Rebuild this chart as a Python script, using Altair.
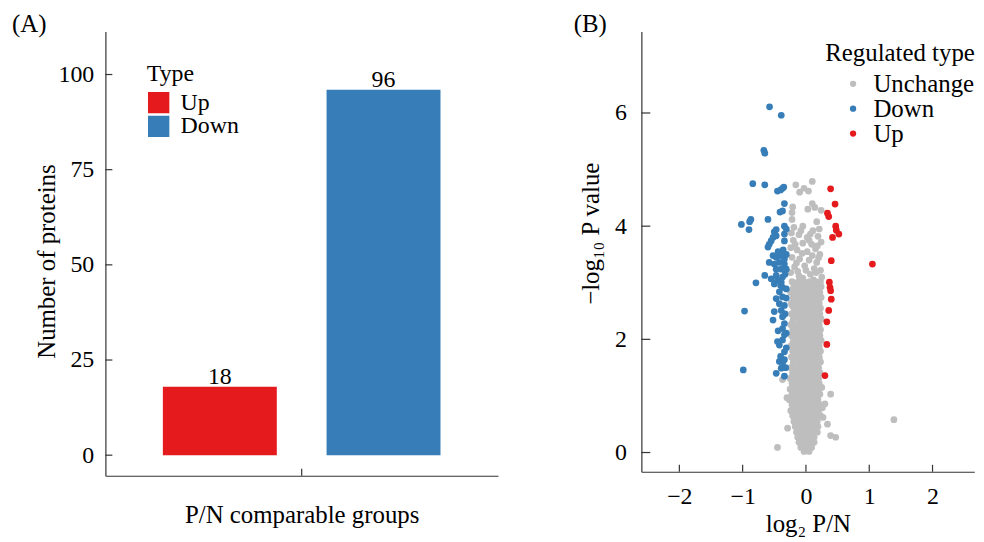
import altair as alt
import pandas as pd

FONT = "Liberation Serif"
AXIS_COLOR = "#333333"

# ---------------- Panel A data ----------------
type_labels = ["Up", "Down"]
type_counts = [18, 96]
type_colors = ["#e41a1c", "#377eb8"]
group_name = "P/N comparable groups"
a_y_ticks = [0, 25, 50, 75, 100]

# ---------------- Panel B data ----------------
reg_types = ["Unchange", "Down", "Up"]
reg_colors = ["#bebebe", "#377eb8", "#e41a1c"]
b_x_ticks = [-2, -1, 0, 1, 2]
b_y_ticks = [0, 2, 4, 6]

up_x = [0.39, 0.46, 0.34, 0.36, 0.47, 0.52, 0.42, 0.48, 0.40, 1.05,
        0.37, 0.38, 0.39, 0.40, 0.36, 0.33, 0.33, 0.30]
up_y = [4.66, 4.39, 4.23, 4.17, 4.00, 3.86, 3.80, 3.93, 3.39, 3.33,
        3.01, 2.92, 2.86, 2.71, 2.51, 2.31, 1.91, 1.36]

down_x = [-0.575, -0.39, -0.665, -0.65, -0.84, -0.65, -0.40, -0.37, -0.35, -0.34,
          -0.41, -0.37, -0.87, -0.60, -1.02, -0.89, -0.90, -0.34, -0.50, -0.47,
          -0.34, -0.52, -0.55, -0.58, -0.60, -0.47, -0.34, -0.52, -0.47, -0.42,
          -0.37, -0.34, -0.58, -0.50, -0.42, -0.34, -0.47, -0.39, -0.31, -0.65,
          -0.79, -0.55, -0.47, -0.37, -0.45, -0.39, -0.50, -0.37, -0.31, -0.42,
          -0.47, -0.37, -0.31, -0.42, -0.34, -0.97, -0.50, -0.39, -0.52, -0.37,
          -0.34, -0.37, -0.31, -0.34, -0.45, -0.37, -0.42, -0.34, -0.99, -0.42,
          -0.37, -0.34, -0.47, -0.34, -0.39, -0.44, -0.36, -0.31, -0.40, -0.33,
          -0.44, -0.31, -0.40, -0.32, -0.45, -0.31, -0.33]
down_y = [6.11, 5.96, 5.34, 5.29, 4.75, 4.73, 4.64, 4.67, 4.69, 4.40,
          4.25, 4.27, 4.12, 4.12, 4.03, 4.08, 3.94, 4.00, 3.90, 3.94,
          3.86, 3.80, 3.74, 3.68, 3.63, 3.83, 3.74, 3.48, 3.45, 3.48,
          3.48, 3.42, 3.36, 3.33, 3.36, 3.33, 3.24, 3.24, 3.24, 3.13,
          3.00, 3.07, 3.13, 3.10, 3.04, 3.01, 2.98, 2.92, 2.89, 2.84,
          2.72, 2.75, 2.73, 2.63, 2.60, 2.50, 2.49, 2.51, 2.34, 2.40,
          2.28, 2.19, 2.11, 2.08, 1.96, 1.99, 1.90, 1.78, 1.46, 1.61,
          1.58, 1.64, 1.40, 1.35, 1.49, 3.55, 3.58, 3.50, 2.95, 2.45,
          2.15, 1.85, 1.70, 1.50, 4.62, 3.95, 3.15]

# non-significant proteins: rows of the dense column (y, list of x)
unch_rows = [
    (3.02, [-0.22, -0.12, -0.03, 0.06, 0.15, 0.23]),
    (2.98, [-0.17, -0.07, 0.03, 0.12, 0.20]),
    (2.93, [-0.19, -0.09, 0.01, 0.10, 0.19, 0.24]),
    (2.88, [-0.21, -0.11, -0.01, 0.08, 0.17]),
    (2.83, [-0.24, -0.14, -0.04, 0.05, 0.14, 0.22]),
    (2.79, [-0.18, -0.07, 0.03, 0.13, 0.21]),
    (2.74, [-0.20, -0.10, -0.01, 0.09, 0.18, 0.24]),
    (2.69, [-0.19, -0.08, 0.02, 0.11, 0.19]),
    (2.64, [-0.23, -0.13, -0.05, 0.04, 0.13, 0.21]),
    (2.60, [-0.22, -0.12, -0.02, 0.06, 0.14]),
    (2.55, [-0.19, -0.09, 0.00, 0.08, 0.17, 0.23]),
    (2.50, [-0.18, -0.08, 0.02, 0.11, 0.20]),
    (2.45, [-0.23, -0.14, -0.04, 0.05, 0.14, 0.22]),
    (2.41, [-0.17, -0.06, 0.04, 0.13, 0.21]),
    (2.36, [-0.20, -0.10, 0.01, 0.10, 0.19, 0.24]),
    (2.31, [-0.21, -0.10, 0.00, 0.09, 0.18]),
    (2.26, [-0.24, -0.14, -0.05, 0.04, 0.13, 0.21]),
    (2.22, [-0.18, -0.08, 0.02, 0.11, 0.20]),
    (2.17, [-0.21, -0.11, -0.01, 0.08, 0.17, 0.23]),
    (2.12, [-0.19, -0.08, 0.02, 0.12, 0.20]),
    (2.07, [-0.23, -0.13, -0.04, 0.06, 0.15, 0.22]),
    (2.03, [-0.20, -0.10, 0.00, 0.09, 0.18]),
    (1.98, [-0.19, -0.09, 0.00, 0.10, 0.19, 0.24]),
    (1.93, [-0.21, -0.11, -0.01, 0.08, 0.17]),
    (1.88, [-0.24, -0.14, -0.05, 0.04, 0.13, 0.21]),
    (1.84, [-0.18, -0.08, 0.02, 0.11, 0.19]),
    (1.79, [-0.21, -0.11, -0.02, 0.08, 0.17, 0.23]),
    (1.74, [-0.19, -0.09, 0.01, 0.10, 0.18]),
    (1.69, [-0.23, -0.13, -0.04, 0.05, 0.14, 0.21]),
    (1.65, [-0.16, -0.06, 0.04, 0.13, 0.21]),
    (1.60, [-0.20, -0.10, 0.00, 0.09, 0.18, 0.23]),
    (1.55, [-0.20, -0.10, 0.00, 0.09, 0.17]),
    (1.50, [-0.24, -0.14, -0.05, 0.04, 0.13, 0.20]),
    (1.46, [-0.18, -0.08, 0.02, 0.11, 0.19]),
    (1.41, [-0.21, -0.11, -0.02, 0.07, 0.16, 0.22]),
    (1.36, [-0.21, -0.11, -0.01, 0.08, 0.16]),
    (1.31, [-0.25, -0.15, -0.06, 0.03, 0.12, 0.20]),
    (1.27, [-0.19, -0.09, 0.01, 0.10, 0.18]),
    (1.22, [-0.22, -0.12, -0.03, 0.06, 0.15, 0.21]),
    (1.17, [-0.20, -0.10, 0.00, 0.09, 0.17]),
    (1.12, [-0.25, -0.15, -0.06, 0.04, 0.13, 0.19]),
    (1.08, [-0.18, -0.08, 0.02, 0.11, 0.19]),
    (1.03, [-0.22, -0.12, -0.02, 0.07, 0.16, 0.22]),
    (0.98, [-0.21, -0.11, -0.01, 0.08, 0.16]),
    (0.93, [-0.26, -0.16, -0.06, 0.03, 0.12, 0.19]),
    (0.89, [-0.18, -0.08, 0.02, 0.11, 0.19]),
    (0.84, [-0.22, -0.12, -0.03, 0.06, 0.15, 0.22]),
    (0.79, [-0.20, -0.10, 0.00, 0.09, 0.17]),
    (0.74, [-0.24, -0.14, -0.05, 0.04, 0.13, 0.20]),
    (0.70, [-0.18, -0.08, 0.02, 0.11, 0.19]),
    (0.65, [-0.21, -0.11, -0.02, 0.07, 0.16, 0.23]),
    (0.60, [-0.16, -0.06, 0.04, 0.13]),
    (0.55, [-0.19, -0.09, 0.01, 0.10, 0.18]),
    (0.51, [-0.14, -0.04, 0.06, 0.14]),
    (0.46, [-0.17, -0.07, 0.02, 0.11, 0.19]),
    (0.41, [-0.12, -0.02, 0.07, 0.15]),
    (0.36, [-0.15, -0.06, 0.03, 0.12, 0.18]),
    (0.32, [-0.10, 0.00, 0.09]),
    (0.27, [-0.13, -0.04, 0.05, 0.13]),
    (0.22, [-0.07, 0.03, 0.10]),
    (0.18, [-0.11, -0.02, 0.07, 0.13]),
    (0.13, [-0.04, 0.05]),
    (0.09, [-0.08, 0.01, 0.09]),
    (0.05, [0.00]),
    (0.02, [-0.03, 0.05]),
]
# sparse upper part and outliers of the non-significant proteins
unch_extra_x = [-0.16, -0.03, 0.10, 0.04, -0.10, -0.21, 0.10, 0.14, 0.24, -0.22,
                0.03, -0.22, -0.05, 0.17, 0.21, -0.19, 0.11, -0.23, -0.11, 0.02,
                0.19, 0.24, -0.20, -0.05, 0.09, 0.15, -0.24, -0.14, 0.02, 0.22,
                -0.22, -0.10, 0.05, 0.17, -0.02, 0.13, 0.23, -0.18, -0.24, 0.07,
                0.25, -0.11, -0.15, 0.10, -0.06, 0.20, -0.17, 0.05, 0.18, -0.08,
                0.07, -0.13, 0.00, 0.16, -0.05, 0.12,
                1.39, -0.45, -0.29, 0.39, 0.39, 0.47, 0.34, 0.26,
                -0.37, 0.30, -0.30, 0.27, 0.25]
unch_extra_y = [4.73, 4.67, 4.79, 4.62, 4.60, 4.34, 4.40, 4.33, 4.28, 4.24,
                4.30, 4.12, 4.00, 4.08, 3.95, 3.98, 3.92, 3.88, 3.85, 3.80,
                3.82, 3.72, 3.75, 3.70, 3.68, 3.60, 3.62, 3.58, 3.55, 3.50,
                3.45, 3.42, 3.40, 3.36, 3.30, 3.25, 3.22, 3.28, 3.18, 3.15,
                3.10, 3.12, 3.35, 3.48, 3.52, 3.44, 3.68, 3.75, 3.65, 3.92,
                3.86, 3.20, 3.22, 3.18, 3.08, 3.05,
                0.58, 0.09, 0.43, 1.03, 0.30, 0.27, 0.50, 0.79,
                1.29, 0.86, 0.97, 0.62, 1.15]

# ---------------- tables ----------------
a_df = pd.DataFrame({"group": [group_name] * len(type_labels),
                     "Type": type_labels, "count": type_counts})
a_tick_df = pd.DataFrame({"count": a_y_ticks})
a_xtick_df = pd.DataFrame({"group": [group_name]})

ux, uy = [], []
for yv, xs in unch_rows:
    for xv in xs:
        ux.append(xv)
        uy.append(yv)
ux += unch_extra_x
uy += unch_extra_y
b_df = pd.concat([
    pd.DataFrame({"x": ux, "y": uy, "Regulated": "Unchange"}),
    pd.DataFrame({"x": down_x, "y": down_y, "Regulated": "Down"}),
    pd.DataFrame({"x": up_x, "y": up_y, "Regulated": "Up"}),
], ignore_index=True)
b_xtick_df = pd.DataFrame({"x": b_x_ticks})
b_ytick_df = pd.DataFrame({"y": b_y_ticks})

# ---------------- Panel A ----------------
AW, AH = 395, 447
a_title_y = "Number of proteins"
a_title_x = "P/N comparable groups"

a_xscale = alt.Scale(paddingInner=0, paddingOuter=0.207, align=0.5)
a_yscale = alt.Scale(domain=[-5.4, 111.3], nice=False, zero=False)

a_xaxis = alt.Axis(labels=False, ticks=False, tickSize=0, title=a_title_x,
                   titleBaseline="alphabetic", titlePadding=47)
a_yaxis = alt.Axis(values=a_y_ticks, ticks=False, tickSize=0, labelPadding=11.7,
                   title=a_title_y, titleBaseline="alphabetic", titlePadding=4,
                   titleY=231)

bars = alt.Chart(a_df).mark_bar(opacity=1).encode(
    x=alt.X("group:N", scale=a_xscale, axis=a_xaxis),
    xOffset=alt.XOffset("Type:N", sort=type_labels,
                        scale=alt.Scale(paddingInner=0.304, paddingOuter=0)),
    y=alt.Y("count:Q", scale=a_yscale, axis=a_yaxis),
    y2=alt.datum(0),
    color=alt.Color("Type:N", sort=type_labels,
                    scale=alt.Scale(domain=type_labels, range=type_colors),
                    legend=alt.Legend(title="Type", orient="none", legendX=41.6, legendY=31,
                                      symbolType="square", symbolSize=462,
                                      symbolStrokeWidth=0, symbolOpacity=1,
                                      titleFontSize=24, labelFontSize=24,
                                      titlePadding=5, labelOffset=10,
                                      padding=0, rowPadding=-1.5, clipHeight=23)),
)
bar_text = alt.Chart(a_df).mark_text(font=FONT, fontSize=24, baseline="alphabetic",
                                     dy=-3, color="black").encode(
    x=alt.X("group:N", scale=a_xscale, axis=a_xaxis),
    xOffset=alt.XOffset("Type:N", sort=type_labels),
    y=alt.Y("count:Q", scale=a_yscale, axis=a_yaxis),
    text=alt.Text("count:Q"),
)
a_yticks = alt.Chart(a_tick_df).mark_rule(color=AXIS_COLOR, strokeWidth=1.2).encode(
    y=alt.Y("count:Q", scale=a_yscale, axis=a_yaxis),
    x=alt.value(0), x2=alt.value(7),
)
a_xtick = alt.Chart(a_xtick_df).mark_rule(color=AXIS_COLOR, strokeWidth=1.2).encode(
    x=alt.X("group:N", scale=a_xscale, axis=a_xaxis),
    y=alt.value(AH), y2=alt.value(AH - 7),
)
panel_a = alt.layer(bars, bar_text, a_yticks, a_xtick).properties(
    width=AW, height=AH,
    title=alt.TitleParams("(A)", anchor="start", frame="group", dx=-94, dy=10),
)

# ---------------- Panel B ----------------
BW, BH = 335, 443
b_xscale = alt.Scale(domain=[-2.6, 2.66], nice=False, zero=False)
b_yscale = alt.Scale(domain=[-0.34, 7.44], nice=False, zero=False)
b_title_x = "log\u2082 P/N"
b_title_y = "\u2212log\u2081\u2080 P value"
b_xaxis = alt.Axis(values=b_x_ticks, ticks=False, tickSize=0, labelPadding=13,
                   title=b_title_x, titleBaseline="alphabetic", titlePadding=23)
b_yaxis = alt.Axis(values=b_y_ticks, ticks=False, tickSize=0, labelPadding=15,
                   title=b_title_y, titleBaseline="alphabetic", titlePadding=16,
                   titleY=203)

pts = alt.Chart(b_df).mark_circle(size=46, opacity=1).encode(
    x=alt.X("x:Q", scale=b_xscale, axis=b_xaxis),
    y=alt.Y("y:Q", scale=b_yscale, axis=b_yaxis),
    color=alt.Color("Regulated:N", sort=reg_types,
                    scale=alt.Scale(domain=reg_types, range=reg_colors),
                    legend=alt.Legend(title="Regulated type", orient="none",
                                      legendX=185, legendY=9.7,
                                      symbolType="circle", symbolSize=40,
                                      symbolOffset=15.5, symbolStrokeWidth=0,
                                      symbolOpacity=1,
                                      titleFontSize=25, labelFontSize=25,
                                      titlePadding=6.5, labelOffset=8,
                                      padding=0, rowPadding=-3, clipHeight=23)),
)
b_xticks = alt.Chart(b_xtick_df).mark_rule(color=AXIS_COLOR, strokeWidth=1.2).encode(
    x=alt.X("x:Q", scale=b_xscale, axis=b_xaxis),
    y=alt.value(BH), y2=alt.value(BH - 7),
)
b_yticks = alt.Chart(b_ytick_df).mark_rule(color=AXIS_COLOR, strokeWidth=1.2).encode(
    y=alt.Y("y:Q", scale=b_yscale, axis=b_yaxis),
    x=alt.value(0), x2=alt.value(9),
)
panel_b = alt.layer(pts, b_xticks, b_yticks).properties(
    width=BW, height=BH,
    title=alt.TitleParams("(B)", anchor="start", frame="group", dx=-68, dy=10),
)

chart = alt.hconcat(panel_a, panel_b, spacing=76.3).resolve_scale(
    x="independent", y="independent", color="independent"
).properties(
    padding={"left": 4, "top": 3, "right": 0, "bottom": 0}
).configure_view(stroke=None).configure_axis(
    grid=False, domainColor=AXIS_COLOR, domainWidth=1.2,
    labelFont=FONT, titleFont=FONT, labelFontSize=24, titleFontSize=25,
    labelColor="black", titleColor="black", titleFontWeight="normal",
).configure_legend(
    titleFont=FONT, labelFont=FONT, titleColor="black", labelColor="black",
    titleFontWeight="normal",
).configure_title(
    font=FONT, fontSize=25, fontWeight="normal", color="black",
)

chart.save("out.html", embed_options={"renderer": "svg", "actions": False})
